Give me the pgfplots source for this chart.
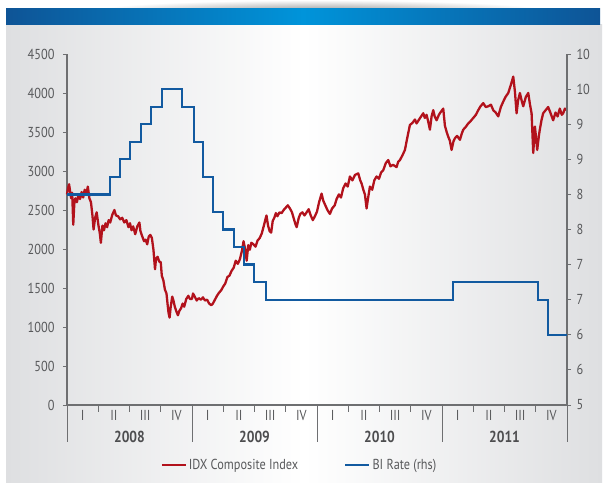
\documentclass[border=0pt]{standalone}
\usepackage{pgfplots}
\pgfplotsset{compat=1.18}
\usepackage{fontspec}
\setmainfont{PT Sans}[FakeStretch=0.85]
\definecolor{idxred}{RGB}{178,18,28}
\definecolor{birblue}{RGB}{18,90,160}
\definecolor{axgray}{RGB}{110,111,113}
\definecolor{txtgray}{RGB}{88,89,91}
\definecolor{yeargray}{RGB}{77,77,79}
\definecolor{panelgray}{RGB}{222,223,225}
\definecolor{bardark}{RGB}{14,84,150}
\definecolor{barlight}{RGB}{0,148,218}

\pgfplotstableread{
m v
0.00 2700
0.10 2780
0.20 2830
0.30 2740
0.40 2650
0.50 2720
0.60 2310
0.70 2580
0.80 2650
0.95 2600
1.10 2700
1.25 2640
1.40 2730
1.55 2660
1.70 2760
1.85 2700
2.00 2800
2.15 2650
2.30 2600
2.45 2420
2.55 2250
2.70 2400
2.85 2470
3.00 2320
3.15 2200
3.25 2080
3.40 2300
3.55 2240
3.70 2330
3.85 2280
4.00 2370
4.15 2340
4.35 2440
4.55 2500
4.70 2430
4.90 2420
5.10 2380
5.30 2400
5.50 2340
5.70 2370
5.90 2280
6.05 2330
6.20 2240
6.35 2290
6.55 2190
6.75 2290
6.95 2340
7.05 2230
7.20 2170
7.40 2100
7.55 2120
7.70 2060
7.85 2160
8.00 2180
8.15 2140
8.30 1990
8.45 1740
8.55 1880
8.70 1900
8.85 1840
9.00 1830
9.10 1660
9.25 1600
9.40 1480
9.55 1430
9.65 1300
9.75 1180
9.85 1120
9.95 1250
10.10 1390
10.20 1350
10.35 1260
10.50 1200
10.65 1150
10.80 1210
10.95 1240
11.10 1300
11.25 1260
11.45 1360
11.65 1400
11.80 1360
12.00 1360
12.10 1430
12.30 1380
12.45 1340
12.65 1370
12.85 1350
13.05 1380
13.25 1340
13.45 1350
13.65 1300
13.85 1280
14.00 1300
14.20 1350
14.40 1400
14.60 1440
14.80 1470
15.00 1520
15.20 1560
15.40 1640
15.60 1660
15.80 1720
16.00 1760
16.20 1850
16.40 1810
16.60 1870
16.80 1980
16.95 2100
17.10 2000
17.25 1850
17.40 2050
17.55 1990
17.70 2080
17.90 2060
18.10 2030
18.30 2110
18.50 2140
18.70 2200
18.90 2300
19.05 2380
19.15 2430
19.30 2300
19.45 2230
19.60 2210
19.75 2360
19.90 2400
20.05 2460
20.20 2420
20.40 2470
20.60 2460
20.80 2500
21.00 2530
21.20 2560
21.40 2520
21.60 2470
21.75 2400
21.95 2310
22.05 2280
22.25 2400
22.40 2450
22.60 2470
22.80 2430
23.00 2470
23.20 2510
23.40 2430
23.60 2370
23.80 2420
24.00 2480
24.20 2600
24.44 2710
24.60 2620
24.80 2560
25.00 2500
25.24 2450
25.45 2520
25.70 2560
25.88 2640
26.10 2700
26.30 2660
26.52 2780
26.75 2840
26.95 2800
27.16 2930
27.40 2880
27.65 2950
27.96 2970
28.15 2880
28.28 2840
28.45 2760
28.60 2700
28.76 2520
28.90 2650
29.08 2800
29.30 2760
29.50 2880
29.72 2930
29.95 2900
30.15 2980
30.36 3010
30.60 3100
30.84 3140
31.05 3060
31.30 3080
31.64 3050
31.80 3120
31.96 3140
32.20 3200
32.44 3270
32.60 3380
32.75 3480
32.92 3590
33.10 3610
33.24 3630
33.40 3660
33.56 3610
33.80 3660
34.00 3700
34.20 3740
34.35 3680
34.52 3720
34.70 3620
34.84 3530
35.00 3700
35.16 3780
35.30 3700
35.48 3650
35.70 3720
35.90 3760
36.12 3800
36.28 3580
36.45 3500
36.60 3440
36.75 3390
36.92 3270
37.10 3380
37.24 3420
37.45 3450
37.72 3400
37.90 3480
38.04 3530
38.25 3560
38.52 3610
38.75 3640
39.00 3680
39.25 3720
39.48 3780
39.70 3830
39.96 3870
40.20 3820
40.44 3830
40.70 3850
40.92 3780
41.15 3750
41.40 3700
41.65 3820
41.88 3890
42.10 3950
42.36 4000
42.60 4100
42.84 4210
43.00 4020
43.16 3740
43.30 3900
43.48 4000
43.65 3900
43.80 3830
44.05 3950
44.28 4000
44.45 3850
44.60 3740
44.76 3230
44.92 3570
45.05 3400
45.14 3270
45.30 3450
45.39 3530
45.55 3650
45.71 3740
45.95 3780
46.19 3820
46.40 3750
46.67 3650
46.90 3750
47.10 3700
47.31 3800
47.50 3720
47.63 3740
47.80 3800
48.00 3780
}\idxdata

\pgfplotstableread{
m r
0 8.00
4.13 8.25
5.09 8.50
6.05 8.75
7.07 9.00
8.03 9.25
9.15 9.50
11.07 9.25
12.19 8.75
13.08 8.25
14.04 7.75
15.00 7.50
16.03 7.25
16.99 7.00
17.98 6.75
19.10 6.50
37.08 6.75
45.20 6.50
46.20 6.00
48.00 6.00
}\birate

\begin{document}
\begin{tikzpicture}
\fill[white] (0bp,0bp) rectangle (606bp,492bp);
\shade[inner color=black!40, outer color=white] (320bp,481bp) ellipse (230bp and 11bp);
\shade[left color=panelgray, right color=panelgray, middle color=white] (6bp,9bp) rectangle (602bp,467bp);
\shade[left color=bardark, right color=bardark, middle color=barlight] (6bp,467bp) rectangle (600bp,483bp);

\begin{axis}[
  at={(67bp,87bp)}, anchor=south west,
  scale only axis, width=500bp, height=351bp,
  xmin=0, xmax=48, ymin=0, ymax=4500,
  axis x line*=bottom, axis y line*=left,
  axis line style={axgray, line width=1.1pt, -},
  tick align=outside, major tick length=4bp,
  tick style={axgray, line width=1pt},
  tick label style={font=\fontsize{14.5}{16}\selectfont, text=txtgray},
  ytick={0,500,...,4500},
  yticklabels={0,500,1000,1500,2000,2500,3000,3500,4000,4500},
  yticklabel style={xshift=-5bp},
  xtick={1.5,4.5,...,46.5},
  xticklabels={I,II,III,IV,I,II,III,IV,I,II,III,IV,I,II,III,IV},
  xtick style={draw=none},
  xticklabel style={yshift=2bp},
  clip=false,
]
\addplot[idxred, line width=2.3pt, line join=round] table[x=m, y=v] {\idxdata};
\draw[axgray, line width=1pt]
  (axis cs:3,0) -- ++(0bp,-7bp) (axis cs:6,0) -- ++(0bp,-7bp) (axis cs:9,0) -- ++(0bp,-7bp)
  (axis cs:15,0) -- ++(0bp,-7bp) (axis cs:18,0) -- ++(0bp,-7bp) (axis cs:21,0) -- ++(0bp,-7bp)
  (axis cs:27,0) -- ++(0bp,-7bp) (axis cs:30,0) -- ++(0bp,-7bp) (axis cs:33,0) -- ++(0bp,-7bp)
  (axis cs:39,0) -- ++(0bp,-7bp) (axis cs:42,0) -- ++(0bp,-7bp) (axis cs:45,0) -- ++(0bp,-7bp)
  (axis cs:0,0) -- ++(0bp,-37bp) (axis cs:12,0) -- ++(0bp,-37bp) (axis cs:24,0) -- ++(0bp,-37bp)
  (axis cs:36,0) -- ++(0bp,-37bp) (axis cs:48,0) -- ++(0bp,-37bp);
\begin{scope}[every node/.style={font=\bfseries\fontsize{16}{18}\selectfont, text=yeargray, yshift=-32bp}]
\node at (axis cs:6,0) {2008};
\node at (axis cs:18,0) {2009};
\node at (axis cs:30,0) {2010};
\node at (axis cs:42,0) {2011};
\end{scope}
\end{axis}

\begin{axis}[
  at={(67bp,87bp)}, anchor=south west,
  scale only axis, width=500bp, height=351bp,
  xmin=0, xmax=48, ymin=5, ymax=10,
  axis y line*=right, axis x line=none,
  axis line style={axgray, line width=1.1pt, -},
  tick align=outside, major tick length=4bp,
  tick style={axgray, line width=1pt},
  tick label style={font=\fontsize{14.5}{16}\selectfont, text=txtgray},
  ytick={5,5.5,...,10},
  yticklabels={5,6,6,7,7,8,8,9,9,10,10},
  yticklabel style={xshift=2bp},
  legend style={draw=none, fill=none, at={(0.465,-0.171)}, anchor=center,
    font=\fontsize{14.5}{16}\selectfont, text=txtgray, inner sep=0pt},
  legend columns=2,
  legend cell align=left,
  /tikz/every even column/.append style={column sep=44bp},
  legend image code/.code={\draw[#1] (0bp,0bp) -- (24bp,0bp);},
]
\addlegendimage{idxred, line width=2.2pt}
\addlegendentry{IDX Composite Index}
\addplot[birblue, line width=2.3pt, const plot, line join=miter] table[x=m, y=r] {\birate};
\addlegendentry{BI Rate (rhs)}
\end{axis}
\pgfresetboundingbox
\useasboundingbox (0bp,0bp) rectangle (606bp,492bp);
\end{tikzpicture}
\end{document}
